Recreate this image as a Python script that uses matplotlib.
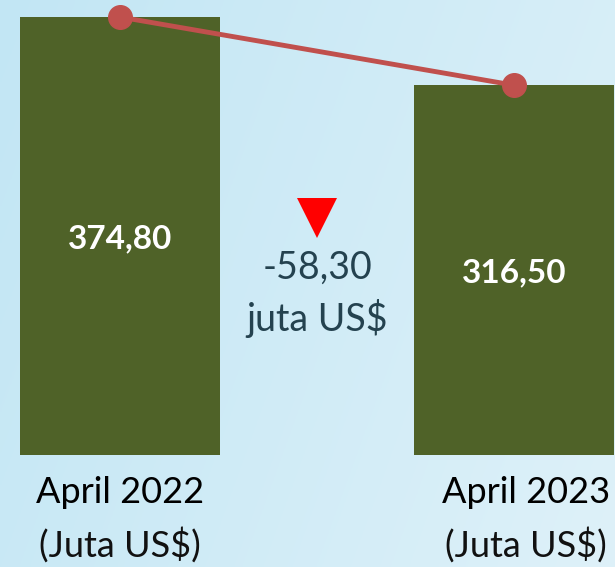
import numpy as np
import matplotlib
matplotlib.use("Agg")
import matplotlib.pyplot as plt

categories = ["April 2022", "April 2023"]
unit_label = "(Juta US$)"
values = [374.80, 316.50]
value_labels = ["374,80", "316,50"]
change_lines = ["-58,30", "juta US$"]

bar_color = "#4f6228"
line_color = "#c0504d"
text_font = ["Lato", "DejaVu Sans"]

fig = plt.figure(figsize=(6.15, 5.67), dpi=100)
ax = fig.add_axes([0, 0, 1, 1])

# background gradient
xlim = (-0.3046, 1.2563)
ylim = (-95.8, 389.4)
gx = np.linspace(0, 1, 256)
gy = np.linspace(0, 1, 256)
GX, GY = np.meshgrid(gx, gy)
t = np.clip(0.75 * GX + 0.25 * (1 - GY), 0, 1)
c0 = np.array([194, 230, 244]) / 255
c1 = np.array([222, 241, 249]) / 255
img = c0[None, None, :] * (1 - t[..., None]) + c1[None, None, :] * t[..., None]
ax.imshow(img, extent=[xlim[0], xlim[1], ylim[0], ylim[1]], origin="lower",
          aspect="auto", zorder=0)

x = np.arange(len(values))
ax.bar(x, values, width=0.508, color=bar_color, zorder=2)
ax.plot(x, values, color=line_color, lw=3.5, marker="o", markersize=17,
        zorder=3)

for xi, v, lab in zip(x, values, value_labels):
    ax.text(xi, v / 2 - 2, lab, ha="center", va="center", color="white",
            fontsize=24, fontweight="bold", family=text_font, zorder=4)

label_shift = [0.0, 0.03]
for xi, sh, cat in zip(x, label_shift, categories):
    ax.text(xi + sh, -32, cat, ha="center", va="center", color="black",
            fontsize=26, family=text_font, zorder=4)
    ax.text(xi + sh, -77, unit_label, ha="center", va="center", color="#111111",
            fontsize=26, family=text_font, zorder=4)

mid = x.mean()
ax.plot([mid], [203], marker="v", color="#ff0000", markersize=29,
        markeredgewidth=0, zorder=4)
ax.text(mid, 160, change_lines[0], ha="center", va="center", color="#24424f",
        fontsize=27, family=text_font, zorder=4)
ax.text(mid, 117, change_lines[1], ha="center", va="center", color="#24424f",
        fontsize=27, family=text_font, zorder=4)

ax.set_xlim(*xlim)
ax.set_ylim(*ylim)
ax.axis("off")
fig.savefig("out.png", dpi=100)
